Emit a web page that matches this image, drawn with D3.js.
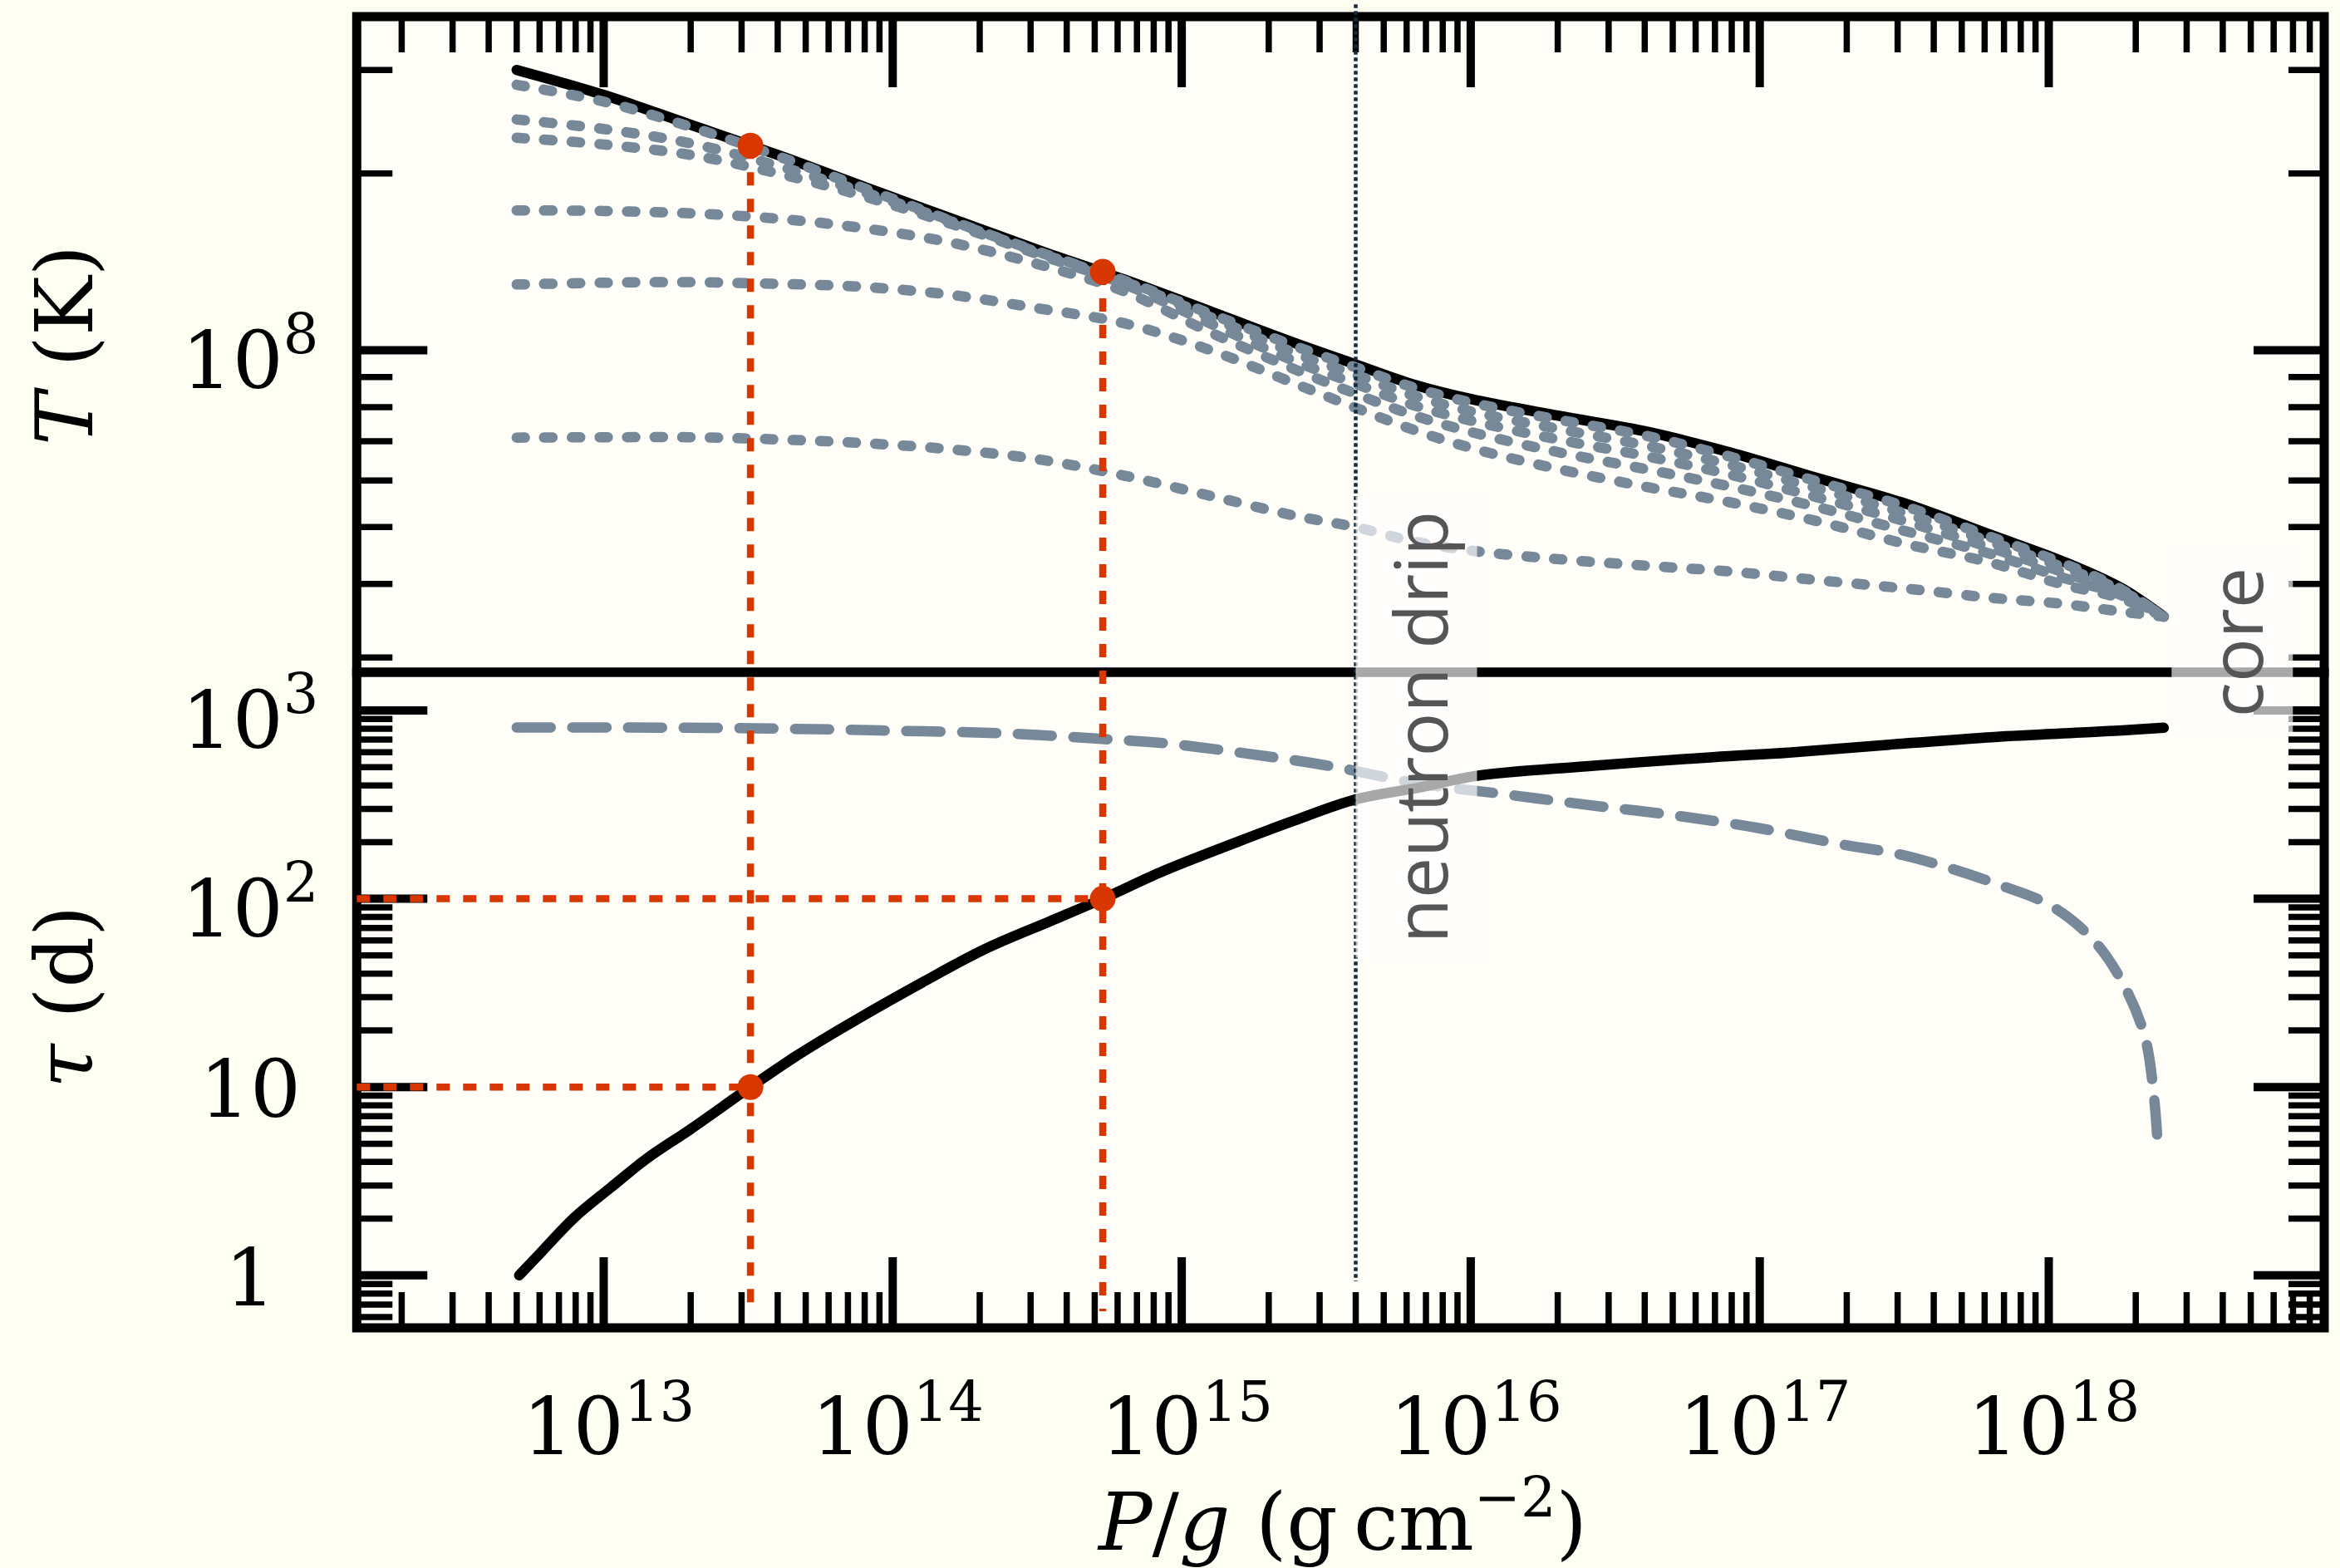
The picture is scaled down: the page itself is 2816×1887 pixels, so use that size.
<!DOCTYPE html>
<html><head><meta charset="utf-8">
<script src="https://cdn.jsdelivr.net/npm/d3@7"></script>
<style>
html,body{margin:0;padding:0;background:#fffef2;}
svg{display:block;}
</style></head><body>
<svg id="chart" width="2816" height="1887"></svg>
<script>
// ---------------- data ----------------
// column depth P/g (g cm^-2) shared by the temperature profiles
const pressure = [5.0e12, 1.0e13, 2.0e13, 4.0e13, 7.9e13, 1.6e14, 3.2e14, 6.3e14, 1.26e15, 2.5e15, 4.0e15,
                  6.3e15, 1.0e16, 2.0e16, 4.0e16, 7.9e16, 1.6e17, 3.2e17, 6.3e17, 1.12e18, 1.78e18, 2.5e18];
// temperature profiles T (K)
const tempInitial = [3.00e8, 2.72e8, 2.42e8, 2.15e8, 1.90e8, 1.675e8, 1.48e8, 1.32e8, 1.164e8, 1.026e8, 9.46e7,
                     8.75e7, 8.26e7, 7.74e7, 7.28e7, 6.70e7, 6.05e7, 5.48e7, 4.85e7, 4.37e7, 3.94e7, 3.52e7];
const tempCool1 = [2.83e8, 2.65e8, 2.40e8, 2.14e8, 1.89e8, 1.66e8, 1.47e8, 1.315e8, 1.153e8, 1.014e8, 9.35e7,
                   8.65e7, 8.15e7, 7.62e7, 7.16e7, 6.59e7, 5.97e7, 5.42e7, 4.81e7, 4.34e7, 3.92e7, 3.52e7];
const tempCool2 = [2.47e8, 2.38e8, 2.25e8, 2.06e8, 1.86e8, 1.656e8, 1.466e8, 1.31e8, 1.138e8, 9.86e7, 9.08e7,
                   8.38e7, 7.87e7, 7.35e7, 6.89e7, 6.38e7, 5.81e7, 5.27e7, 4.72e7, 4.27e7, 3.90e7, 3.52e7];
const tempCool3 = [2.30e8, 2.24e8, 2.15e8, 2.00e8, 1.83e8, 1.64e8, 1.455e8, 1.297e8, 1.11e8, 9.55e7, 8.77e7,
                   8.07e7, 7.59e7, 7.05e7, 6.61e7, 6.14e7, 5.61e7, 5.11e7, 4.61e7, 4.19e7, 3.86e7, 3.52e7];
const tempCool4 = [1.73e8, 1.726e8, 1.71e8, 1.675e8, 1.614e8, 1.524e8, 1.40e8, 1.26e8, 1.072e8, 9.25e7, 8.43e7,
                   7.76e7, 7.26e7, 6.71e7, 6.28e7, 5.86e7, 5.40e7, 4.92e7, 4.50e7, 4.10e7, 3.83e7, 3.52e7];
const tempCool5 = [1.294e8, 1.303e8, 1.306e8, 1.297e8, 1.282e8, 1.242e8, 1.178e8, 1.112e8, 1.00e8, 8.75e7, 7.98e7,
                   7.33e7, 6.82e7, 6.28e7, 5.86e7, 5.51e7, 5.11e7, 4.68e7, 4.35e7, 3.99e7, 3.78e7, 3.52e7];
const tempCool6 = [7.10e7, 7.11e7, 7.11e7, 7.05e7, 6.95e7, 6.78e7, 6.52e7, 6.12e7, 5.65e7, 5.22e7, 5.00e7,
                   4.73e7, 4.56e7, 4.41e7, 4.30e7, 4.20e7, 4.06e7, 3.93e7, 3.79e7, 3.70e7, 3.59e7, 3.52e7];

// thermal time tau (d) vs depth (solid black)
const tauPressure = [5.1e12, 6.0e12, 7.9e12, 1.05e13, 1.41e13, 2.0e13, 3.22e13, 4.6e13, 7.6e13, 1.26e14, 2.1e14,
                     3.5e14, 5.33e14, 8.7e14, 1.58e15, 2.4e15, 4.0e15, 6.6e15, 1.05e16, 2.5e16, 6.9e16, 1.26e17,
                     2.8e17, 6.5e17, 1.48e18, 2.5e18];
const tauValues = [1.0, 1.30, 2.02, 2.90, 4.17, 5.98, 10.0, 14.5, 23.1, 35.8, 54.3,
                   75.9, 100, 141, 202, 257, 337, 389, 450, 505, 565, 597,
                   658, 723, 771, 809];
// second timescale (grey dashed)
const tau2Pressure = [5.0e12, 1.2e13, 3.3e13, 9.1e13, 2.5e14, 5.3e14, 8.7e14, 1.7e15, 3.3e15, 6.6e15, 1.29e16,
                      2.5e16, 5.0e16, 9.8e16, 1.9e17, 3.0e17, 4.5e17, 6.8e17, 1.02e18, 1.43e18, 1.82e18, 2.15e18,
                      2.31e18, 2.39e18];
const tau2Values = [812, 812, 804, 783, 755, 706, 670, 589, 505, 409, 360,
                    316, 278, 238, 195, 173, 146, 118, 91.6, 60.1, 34.8, 18.5,
                    9.04, 4.6];

// highlighted points (tau = 10 d and 100 d)
const markPressure = [3.22e13, 5.33e14];
const markTemp = [2.23e8, 1.36e8];
const markTau = [10, 100];
const markTauBottom = [0.645, 0.645];

// annotations
const dripPressure = 4.0e15;
const corePressure = 2.66e18;
const annotLabels = ["neutron drip", "core"];

// axis ticks / labels
const xLabelExps = [13, 14, 15, 16, 17, 18];
const tLabelValues = [1e8];
const tLabelTexts = [["10", "8"]];
const tauLabelValues = [1, 10, 100, 1000];
const tauLabelTexts = [["1", ""], ["10", ""], ["10", "2"], ["10", "3"]];

// ---------------- layout ----------------
const L = 429.3, R = 2797, TOP = 20, MID = 809, BOT = 1598;
const xScale = d3.scaleLog().domain([Math.pow(10, 12.1455), Math.pow(10, 18.9531)]).range([L, R]);
const yT = d3.scaleLog().domain([Math.pow(10, 7.4519), Math.pow(10, 8.5679)]).range([MID, TOP]);
const yTau = d3.scaleLog().domain([Math.pow(10, -0.2789), Math.pow(10, 3.2030)]).range([BOT, MID]);

const GREY = "#778899", RED = "#d83800", INK = "#000";
const SERIF = "'DejaVu Serif', serif";

const svg = d3.select("#chart");
svg.append("rect").attr("width", 2816).attr("height", 1887).attr("fill", "#fffef2");
svg.append("rect").attr("x", L).attr("y", TOP).attr("width", R - L).attr("height", BOT - TOP).attr("fill", "#fefdf8");

// ---------------- ticks ----------------
const isMajor = v => Math.abs(Math.log10(v) - Math.round(Math.log10(v))) < 1e-9;
const MAJ = 85, MIN = 43;
const gt = svg.append("g").attr("stroke", INK);
xScale.ticks().forEach(v => {
  const x = xScale(v), len = isMajor(v) ? MAJ : MIN, w = isMajor(v) ? 10 : 7.5;
  if (x < L + 3 || x > R - 3) return;
  gt.append("line").attr("x1", x).attr("x2", x).attr("y1", TOP).attr("y2", TOP + len).attr("stroke-width", w);
  gt.append("line").attr("x1", x).attr("x2", x).attr("y1", BOT).attr("y2", BOT - len).attr("stroke-width", w);
});
function yTicks(scale) {
  scale.ticks().forEach(v => {
    const y = scale(v), len = isMajor(v) ? MAJ : MIN, w = isMajor(v) ? 10 : 7.5;
    gt.append("line").attr("x1", L).attr("x2", L + len).attr("y1", y).attr("y2", y).attr("stroke-width", w);
    gt.append("line").attr("x1", R).attr("x2", R - len).attr("y1", y).attr("y2", y).attr("stroke-width", w);
  });
}
yTicks(yT);
yTicks(yTau);

// ---------------- frame ----------------
svg.append("rect").attr("x", L).attr("y", TOP).attr("width", R - L).attr("height", MID - TOP)
  .attr("fill", "none").attr("stroke", INK).attr("stroke-width", 11);
svg.append("rect").attr("x", L).attr("y", MID).attr("width", R - L).attr("height", BOT - MID)
  .attr("fill", "none").attr("stroke", INK).attr("stroke-width", 11);

// ---------------- curves ----------------
const curve = d3.curveCatmullRom.alpha(0.5);
const lineT = d3.line().x(d => xScale(d[0])).y(d => yT(d[1])).curve(curve);
const lineTau = d3.line().x(d => xScale(d[0])).y(d => yTau(d[1])).curve(curve);

svg.append("path").attr("d", lineT(d3.zip(pressure, tempInitial)))
  .attr("fill", "none").attr("stroke", INK).attr("stroke-width", 12.5).attr("stroke-linecap", "round");
[tempCool6, tempCool5, tempCool4, tempCool3, tempCool2, tempCool1].forEach(t => {
  svg.append("path").attr("d", lineT(d3.zip(pressure, t)))
    .attr("fill", "none").attr("stroke", GREY).attr("stroke-width", 12.5)
    .attr("stroke-linecap", "round").attr("stroke-dasharray", "10 23.2");
});
svg.append("path").attr("d", lineTau(d3.zip(tau2Pressure, tau2Values)))
  .attr("fill", "none").attr("stroke", GREY).attr("stroke-width", 12.5)
  .attr("stroke-linecap", "round").attr("stroke-dasharray", "41 26");
svg.append("path").attr("d", lineTau(d3.zip(tauPressure, tauValues)))
  .attr("fill", "none").attr("stroke", INK).attr("stroke-width", 12.5).attr("stroke-linecap", "round");

// ---------------- red markers ----------------
markPressure.forEach((p, i) => {
  svg.append("line").attr("x1", xScale(p)).attr("x2", xScale(p))
    .attr("y1", yT(markTemp[i])).attr("y2", yTau(markTauBottom[i]))
    .attr("stroke", RED).attr("stroke-width", 8.5).attr("stroke-dasharray", "16 16");
  svg.append("line").attr("x1", xScale.range()[0]).attr("x2", xScale(p))
    .attr("y1", yTau(markTau[i])).attr("y2", yTau(markTau[i]))
    .attr("stroke", RED).attr("stroke-width", 8.5).attr("stroke-dasharray", "16 16");
});
markPressure.forEach((p, i) => {
  svg.append("circle").attr("cx", xScale(p)).attr("cy", yT(markTemp[i])).attr("r", 15.5).attr("fill", RED);
  svg.append("circle").attr("cx", xScale(p)).attr("cy", yTau(markTau[i])).attr("r", 15.5).attr("fill", RED);
});

// ---------------- neutron drip line ----------------
svg.append("line").attr("x1", xScale(dripPressure)).attr("x2", xScale(dripPressure))
  .attr("y1", yT(3.88e8)).attr("y2", yTau(0.93))
  .attr("stroke", "#0f2d3c").attr("stroke-width", 4.5).attr("stroke-dasharray", "4.5 3.5");

// ---------------- annotation boxes & labels ----------------
const annot = [
  {p: dripPressure, cy: 875, h: 555, text: annotLabels[0]},
  {p: corePressure, cy: 773, h: 224, text: annotLabels[1]}
];
annot.forEach(a => {
  svg.append("rect").attr("x", xScale(a.p)).attr("y", a.cy - a.h / 2).attr("width", 146).attr("height", a.h)
    .attr("fill", "#ffffff").attr("fill-opacity", 0.66);
  svg.append("text").attr("transform", `translate(${xScale(a.p) + 110},${a.cy}) rotate(-90)`)
    .attr("text-anchor", "middle").attr("font-family", "'Open Sans', Lato, sans-serif")
    .attr("font-weight", 400).attr("font-size", 88).attr("fill", "#555555").text(a.text);
});

// ---------------- tick labels ----------------
function supLabel(g, base, sup, supSize, raise) {
  g.append("tspan").text(base);
  if (sup) g.append("tspan").attr("font-size", supSize).attr("dy", -raise).text(sup);
}
xLabelExps.forEach(k => {
  const t = svg.append("text").attr("x", xScale(Math.pow(10, k)) + 6).attr("y", 1750)
    .attr("text-anchor", "middle").attr("font-family", SERIF).attr("font-size", 96).attr("fill", INK);
  supLabel(t, "10", String(k), 67, 40);
});
tLabelValues.forEach((v, i) => {
  const t = svg.append("text").attr("x", 301).attr("y", yT(v) + 46)
    .attr("text-anchor", "middle").attr("font-family", SERIF).attr("font-size", 96).attr("fill", INK);
  supLabel(t, tLabelTexts[i][0], tLabelTexts[i][1], 67, 42);
});
tauLabelValues.forEach((v, i) => {
  const hasSup = tauLabelTexts[i][1] !== "";
  const t = svg.append("text").attr("x", 301).attr("y", yTau(v) + (hasSup ? 45 : 36))
    .attr("text-anchor", "middle").attr("font-family", SERIF).attr("font-size", 96).attr("fill", INK);
  supLabel(t, tauLabelTexts[i][0], tauLabelTexts[i][1], 67, 42);
});

// ---------------- axis titles ----------------
const xt = svg.append("text").attr("x", 1616).attr("y", 1865).attr("text-anchor", "middle")
  .attr("font-family", SERIF).attr("font-size", 96).attr("fill", INK);
xt.append("tspan").attr("font-style", "italic").text("P");
xt.append("tspan").text("/");
xt.append("tspan").attr("font-style", "italic").text("g");
xt.append("tspan").text(" (g\u2009cm");
xt.append("tspan").attr("font-size", 67).attr("dy", -40).text("\u22122");
xt.append("tspan").attr("dy", 40).text(")");

function yTitle(cy, sym, unit) {
  const t = svg.append("text").attr("transform", `translate(111,${cy}) rotate(-90)`)
    .attr("text-anchor", "middle").attr("font-family", SERIF).attr("font-size", 96).attr("fill", INK);
  t.append("tspan").attr("font-style", "italic").text(sym);
  t.append("tspan").text(" (" + unit + ")");
}
yTitle((TOP + MID) / 2 + 1, "T", "K");
yTitle((MID + BOT) / 2 - 4, "\u03C4", "d");
</script>
</body></html>
